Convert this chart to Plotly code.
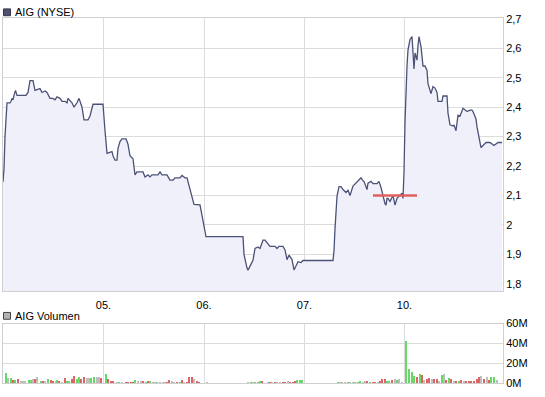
import plotly.graph_objects as go

# ---- price series (x = position in 1/100 trading-day units from chart start) ----
price_t = [0, 1, 2, 3, 4, 7, 8, 9, 10, 11, 12.5, 14, 23, 25, 27, 30, 32, 34, 37, 39, 42, 44, 47, 50,
           52, 54, 57, 59, 62, 64, 65, 69, 71, 74, 76, 79, 81, 85, 87, 90, 100, 102, 104, 109, 110,
           112, 114, 115, 117, 119, 123, 125, 127, 130, 132, 134, 140, 142, 145, 147, 149, 155, 157,
           159, 164, 167, 170, 172, 177, 179, 182, 184, 187, 191, 197, 199, 203, 240, 241, 244, 245,
           247, 250, 252, 255, 257, 260, 262, 265, 267, 272, 274, 276, 280, 282, 284, 286, 289, 291,
           295, 298, 300, 330, 331, 332, 333, 334, 336, 338, 340, 343, 345, 347, 350, 353, 355, 358,
           360, 361, 364, 365, 368, 370, 374, 376, 378, 380, 382, 383, 384, 385, 387, 390, 392, 394,
           397, 399, 400, 401, 402, 403, 404, 405, 407, 409, 410, 411, 412, 414, 415, 416, 418, 419,
           420, 422, 424, 425, 428, 430, 432, 434, 435, 439, 440, 444, 445, 447, 450, 451, 453, 455,
           457, 460, 462, 464, 467, 469, 470, 473, 474, 476, 478, 480, 483, 487, 491, 495, 499]
price_v = [2.146, 2.19, 2.30, 2.37, 2.415, 2.415, 2.42, 2.43, 2.425, 2.44, 2.457, 2.44, 2.44, 2.45,
           2.49, 2.49, 2.457, 2.46, 2.463, 2.45, 2.455, 2.45, 2.43, 2.43, 2.425, 2.435, 2.43, 2.42,
           2.42, 2.415, 2.43, 2.415, 2.40, 2.415, 2.43, 2.40, 2.357, 2.357, 2.37, 2.41, 2.41, 2.32,
           2.243, 2.249, 2.235, 2.22, 2.22, 2.26, 2.283, 2.292, 2.292, 2.274, 2.235, 2.225, 2.17,
           2.18, 2.18, 2.163, 2.17, 2.163, 2.17, 2.17, 2.18, 2.17, 2.17, 2.152, 2.152, 2.16, 2.16,
           2.168, 2.16, 2.16, 2.118, 2.07, 2.068, 2.03, 1.96, 1.96, 1.90, 1.853, 1.846, 1.86, 1.88,
           1.92, 1.925, 1.92, 1.948, 1.948, 1.935, 1.927, 1.927, 1.92, 1.927, 1.927, 1.915, 1.882,
           1.897, 1.882, 1.847, 1.875, 1.872, 1.879, 1.879, 1.912, 1.987, 2.057, 2.097, 2.13, 2.13,
           2.12, 2.11, 2.118, 2.10, 2.132, 2.142, 2.15, 2.16, 2.15, 2.148, 2.12, 2.142, 2.148, 2.14,
           2.14, 2.148, 2.127, 2.097, 2.072, 2.067, 2.09, 2.09, 2.08, 2.10, 2.067, 2.09, 2.10, 2.108,
           2.09, 2.18, 2.35, 2.47, 2.54, 2.595, 2.63, 2.64, 2.59, 2.53, 2.584, 2.56, 2.61, 2.64,
           2.606, 2.56, 2.54, 2.54, 2.525, 2.48, 2.446, 2.47, 2.465, 2.45, 2.42, 2.42, 2.438, 2.438,
           2.38, 2.34, 2.336, 2.34, 2.32, 2.373, 2.37, 2.396, 2.39, 2.385, 2.39, 2.39, 2.385, 2.36,
           2.333, 2.30, 2.263, 2.27, 2.28, 2.28, 2.27, 2.28, 2.28]

# reference (red) price line
ref_price = 2.10
ref_t = [370, 414]

# ---- volume (millions) ----
vol_t = [3, 5, 8, 10, 12, 15, 18, 20, 22, 26, 28, 30, 32, 34, 38, 40, 42, 45, 48, 50, 53, 54, 56,
         59, 62, 64, 66, 69, 71, 74, 76, 78, 81, 84, 86, 88, 91, 94, 96, 98, 103, 105, 108, 110,
         114, 116, 119, 123, 125, 128, 130, 132, 135, 138, 140, 143, 145, 147, 150, 152, 154, 157,
         160, 162, 164, 166, 169, 171, 174, 177, 179, 181, 184, 186, 189, 191, 194, 196, 204, 245,
         248, 250, 252, 255, 257, 259, 265, 267, 269, 272, 274, 277, 280, 282, 285, 287, 290, 292,
         294, 297, 299, 335, 337, 339, 342, 345, 347, 350, 352, 355, 357, 360, 362, 364, 367, 370,
         372, 375, 377, 379, 382, 384, 386, 389, 392, 394, 396, 399, 403, 406, 409, 411, 414, 417,
         419, 421, 424, 426, 429, 431, 434, 436, 439, 441, 443, 446, 448, 451, 453, 456, 458, 461,
         463, 466, 468, 471, 474, 476, 478, 481, 484, 486, 488, 491, 494, 496, 499]
vol_m = [11.3, 5.8, 5.5, 3.9, 3.9, 4.5, 2.6, 2.6, 2.6, 3.9, 3.9, 4.5, 4.5, 6.5, 2.9, 2.6, 2.6, 4.5,
         3.5, 2.9, 2.9, 3.5, 2.6, 1.6, 5.5, 2.9, 2.6, 4.8, 8.4, 4.8, 6.5, 4.8, 7.4, 5.5, 5.5, 5.5,
         7.4, 6.8, 7.4, 5.5, 10.3, 4.5, 2.6, 2.6, 1.3, 1.3, 1.3, 1.3, 1.6, 2.3, 1.6, 4.2, 2.6, 2.6,
         2.6, 2.3, 2.6, 2.6, 1.6, 1.3, 1.3, 1.6, 1.6, 1.3, 1.6, 3.5, 2.6, 1.3, 2.3, 2.3, 3.5, 2.3,
         2.3, 6.5, 7.4, 4.5, 2.6, 1.6, 1.3, 2.0, 1.3, 1.3, 2.0, 2.0, 3.3, 3.3, 2.0, 1.3, 2.0, 1.3,
         2.0, 1.3, 1.3, 2.0, 3.3, 2.0, 2.0, 2.7, 4.0, 4.0, 4.0, 1.0, 1.0, 1.0, 1.0, 1.0, 1.0, 1.3,
         2.0, 2.0, 2.7, 1.3, 2.7, 3.3, 2.0, 1.3, 1.3, 2.0, 3.3, 5.3, 4.7, 3.3, 3.3, 4.0, 5.3, 4.3,
         5.3, 2.0, 42.7, 15.0, 12.0, 7.7, 7.3, 9.7, 8.7, 4.0, 4.7, 6.0, 5.0, 5.0, 5.0, 3.3, 9.0,
         10.0, 4.0, 6.0, 5.0, 3.3, 3.3, 3.3, 4.0, 3.3, 3.3, 3.3, 3.3, 3.3, 5.3, 6.7, 7.7, 5.3, 6.7,
         4.3, 6.7, 6.7, 4.3, 12.0]
vol_dir = ("gngrgrnnnggnrngrngrrngrnrggrrggrrnnggnnrgrrrngnrrrrgnnrgrgnngnnnrrnnrgrnrrrnr"
           "rnngngggrnrnrnnrrnrrrgg"
           "ggnnngnngggnnrgrrnrrrggrngnnggggrgrnrrnrrngnrgrnrgrnrrrrrrnrnrggn")

day_ticks = [100.5, 201, 301.5, 401.5]
day_labels = ["05.", "06.", "07.", "10."]
price_ticks = [1.8, 1.9, 2.0, 2.1, 2.2, 2.3, 2.4, 2.5, 2.6, 2.7]
price_labels = ["1,8", "1,9", "2", "2,1", "2,2", "2,3", "2,4", "2,5", "2,6", "2,7"]
vol_ticks = [0, 20, 40, 60]
vol_labels = ["0M", "20M", "40M", "60M"]

# ---- styling ----
LINE = "#4b5276"
FILL = "rgb(240,240,251)"
GRID = "#dcdcdc"
BORDER = "#cfcfcf"
COLMAP = {"g": "#66d966", "r": "#e06464", "n": "#bdbdbd"}
FONT = dict(family="Liberation Sans, Arial, sans-serif", size=11, color="#000000")

W, H = 545, 397
ML, MR = 3, 42
PW = W - ML - MR

def py(px):
    return 1 - px / H

def pxx(px):
    return (px - ML) / PW

fig = go.Figure()

fig.add_trace(go.Scatter(x=price_t, y=price_v, mode="lines", fill="tozeroy",
                         fillcolor=FILL, line=dict(color=LINE, width=1.3),
                         xaxis="x", yaxis="y", showlegend=False, hoverinfo="skip"))
fig.add_trace(go.Scatter(x=ref_t, y=[ref_price, ref_price], mode="lines",
                         line=dict(color="#e06060", width=2.5),
                         xaxis="x", yaxis="y", showlegend=False, hoverinfo="skip"))

n = min(len(vol_t), len(vol_m), len(vol_dir))
fig.add_trace(go.Bar(x=vol_t[:n], y=vol_m[:n],
                     marker=dict(color=[COLMAP[c] for c in vol_dir[:n]], line=dict(width=0)),
                     width=1.5, xaxis="x2", yaxis="y2", showlegend=False, hoverinfo="skip"))

axis_common = dict(showgrid=True, gridcolor=GRID, gridwidth=1, zeroline=False,
                   showline=True, linecolor=BORDER, linewidth=1, mirror=True, ticks="",
                   tickfont=FONT, fixedrange=True)

fig.update_layout(
    width=W, height=H,
    margin=dict(l=ML, r=MR, t=0, b=0),
    paper_bgcolor="white", plot_bgcolor="white",
    font=FONT,
    bargap=0,
    xaxis=dict(domain=[0, 1], range=[0, 500], tickvals=day_ticks, ticktext=day_labels,
               anchor="y", ticklabelstandoff=4, **axis_common),
    yaxis=dict(domain=[py(294), py(12.7)], range=[1.775, 2.702], side="right",
               tickvals=price_ticks, ticktext=price_labels, anchor="x", **axis_common),
    xaxis2=dict(domain=[0, 1], range=[0, 500], tickvals=day_ticks, showticklabels=False,
                anchor="y2", **axis_common),
    yaxis2=dict(domain=[py(389.2), py(327.4)], range=[0, 60], side="right",
                tickvals=vol_ticks, ticktext=vol_labels, anchor="x2", **axis_common),
    shapes=[
        dict(type="rect", xref="paper", yref="paper", x0=pxx(3.5), x1=pxx(10.5),
             y0=py(10), y1=py(3), fillcolor=LINE, line=dict(color="#333344", width=1)),
        dict(type="rect", xref="paper", yref="paper", x0=pxx(3.5), x1=pxx(10.5),
             y0=py(323), y1=py(316), fillcolor="#b4b4b4", line=dict(color="#444444", width=1)),
    ],
    annotations=[
        dict(text="AIG (NYSE)", xref="paper", yref="paper", x=pxx(13), y=py(6.5),
             xanchor="left", yanchor="middle", showarrow=False, font=FONT),
        dict(text="AIG Volumen", xref="paper", yref="paper", x=pxx(13), y=py(319.5),
             xanchor="left", yanchor="middle", showarrow=False, font=FONT),
    ],
)

fig.write_html("out.html")
